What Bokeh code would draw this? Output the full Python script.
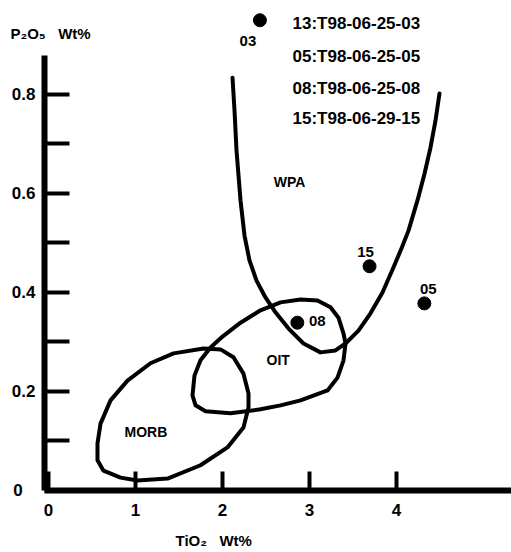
from bokeh.plotting import figure
from bokeh.models import Range1d, FixedTicker, Label, ColumnDataSource
from bokeh.core.properties import value
from bokeh.embed import file_html
from bokeh.resources import INLINE

# ---- data ----
sample_ids = ["03", "05", "08", "15"]
tio2 = [2.43, 4.32, 2.86, 3.69]
p2o5 = [0.950, 0.378, 0.339, 0.453]

legend_lines = ["13:T98-06-25-03", "05:T98-06-25-05", "08:T98-06-25-08", "15:T98-06-29-15"]

# field boundaries (TiO2, P2O5)
wpa_x = [2.115, 2.138, 2.161, 2.207, 2.253, 2.310, 2.391, 2.494, 2.609, 2.759, 2.931, 3.126,
         3.299, 3.414, 3.563, 3.701, 3.839, 3.966, 4.057, 4.138, 4.241, 4.322, 4.391, 4.448, 4.494]
wpa_y = [0.834, 0.768, 0.687, 0.586, 0.515, 0.465, 0.424, 0.390, 0.360, 0.327, 0.297, 0.279,
         0.283, 0.297, 0.323, 0.358, 0.400, 0.451, 0.489, 0.525, 0.586, 0.640, 0.693, 0.747, 0.802]

oit_x = [2.437, 2.667, 2.897, 3.092, 3.241, 3.333, 3.391, 3.414, 3.391, 3.322, 3.207, 2.897,
         2.667, 2.437, 2.092, 1.805, 1.690, 1.655, 1.678, 1.747, 1.862, 2.000, 2.207, 2.437]
oit_y = [0.364, 0.380, 0.386, 0.384, 0.370, 0.349, 0.317, 0.297, 0.263, 0.228, 0.202, 0.182,
         0.172, 0.164, 0.156, 0.160, 0.172, 0.192, 0.232, 0.263, 0.289, 0.311, 0.339, 0.364]

morb_x = [0.713, 0.908, 1.172, 1.437, 1.782, 1.977, 2.126, 2.241, 2.299, 2.299, 2.241, 2.057,
          1.747, 1.368, 1.023, 0.828, 0.632, 0.563, 0.563, 0.598, 0.713]
morb_y = [0.182, 0.222, 0.257, 0.277, 0.287, 0.285, 0.269, 0.236, 0.196, 0.168, 0.127, 0.087,
          0.051, 0.024, 0.020, 0.026, 0.040, 0.061, 0.095, 0.135, 0.182]

field_names = ["WPA", "OIT", "MORB"]
field_label_x = [2.77, 2.64, 1.12]
field_label_y = [0.624, 0.263, 0.119]

x_ticks = [0, 1, 2, 3, 4]
y_ticks = [0, 0.1, 0.2, 0.3, 0.4, 0.5, 0.6, 0.7, 0.8]

# ---- style ----
FONT = "Liberation Sans"
label_dx = [-12, 4, 20, -4]
label_dy = [21, -14, -2, -14]

p = figure(width=511, height=552,
           x_range=Range1d(-0.5517, 5.3218), y_range=Range1d(-0.1253, 0.9899),
           output_backend="svg", toolbar_location=None,
           min_border_left=0, min_border_right=0, min_border_top=0, min_border_bottom=0)
p.outline_line_color = None
p.grid.visible = False
p.background_fill_color = "white"
p.border_fill_color = "white"

# axes (drawn at fixed positions inside the frame)
p.xaxis.fixed_location = 0
p.yaxis.fixed_location = -0.046
p.xaxis.bounds = (-0.046, 5.3218)
p.yaxis.bounds = (0, 0.879)
p.xaxis.ticker = FixedTicker(ticks=x_ticks)
p.yaxis.ticker = FixedTicker(ticks=y_ticks)
p.yaxis.major_label_overrides = {0: "0\u2007\u2009", 0.1: "", 0.2: "0.2", 0.3: "", 0.4: "0.4",
                                 0.5: "", 0.6: "0.6", 0.7: "", 0.8: "0.8"}
p.xaxis.major_label_overrides = {0: "0", 1: "1", 2: "2", 3: "3", 4: "4"}
for ax in (p.xaxis, p.yaxis):
    ax.axis_line_width = 6
    ax.axis_line_color = "black"
    ax.major_tick_out = 0
    ax.minor_tick_line_color = None
    ax.major_tick_line_width = 4
    ax.major_tick_line_color = "black"
    ax.major_label_text_font = FONT
    ax.major_label_text_font_size = "17px"
    ax.major_label_text_font_style = "bold"
    ax.major_label_text_color = "black"
p.yaxis.major_tick_in = 25
p.xaxis.major_tick_in = 19
p.yaxis.major_label_standoff = 9
p.xaxis.major_label_standoff = 14

# field boundaries
for xs, ys in ((wpa_x, wpa_y), (oit_x, oit_y), (morb_x, morb_y)):
    p.line(xs, ys, line_width=4, line_color="black", line_join="round", line_cap="round")

p.text(field_label_x, field_label_y, text=field_names, text_font=value(FONT),
       text_font_size="14px", text_font_style="bold", text_align="center",
       text_baseline="middle", text_color="black")

# samples
src = ColumnDataSource(dict(x=tio2, y=p2o5, t=sample_ids, dx=label_dx, dy=label_dy))
p.scatter("x", "y", source=src, size=13, color="black")
p.text("x", "y", text="t", x_offset="dx", y_offset="dy", source=src, text_font=value(FONT),
       text_font_size="15px", text_font_style="bold", text_align="center",
       text_baseline="middle", text_color="black")

# sample legend
legend_y = [0.943, 0.877, 0.812, 0.752]
for s, yy in zip(legend_lines, legend_y):
    p.add_layout(Label(x=2.805, y=yy, text=s, text_font=FONT, text_font_size="17px",
                       text_font_style="bold", text_baseline="middle", text_align="left",
                       text_color="black"))

# axis titles
p.add_layout(Label(x=-0.437, y=0.923, text="P\u2082O\u2085\u00a0\u00a0\u00a0Wt%", text_font=FONT,
                   text_font_size="15px", text_font_style="bold", text_baseline="middle",
                   text_align="left", text_color="black"))
p.add_layout(Label(x=1.46, y=-0.101, text="TiO\u2082\u00a0\u00a0\u00a0Wt%", text_font=FONT,
                   text_font_size="15px", text_font_style="bold", text_baseline="middle",
                   text_align="left", text_color="black"))

open("out.html", "w").write(file_html(p, INLINE))
